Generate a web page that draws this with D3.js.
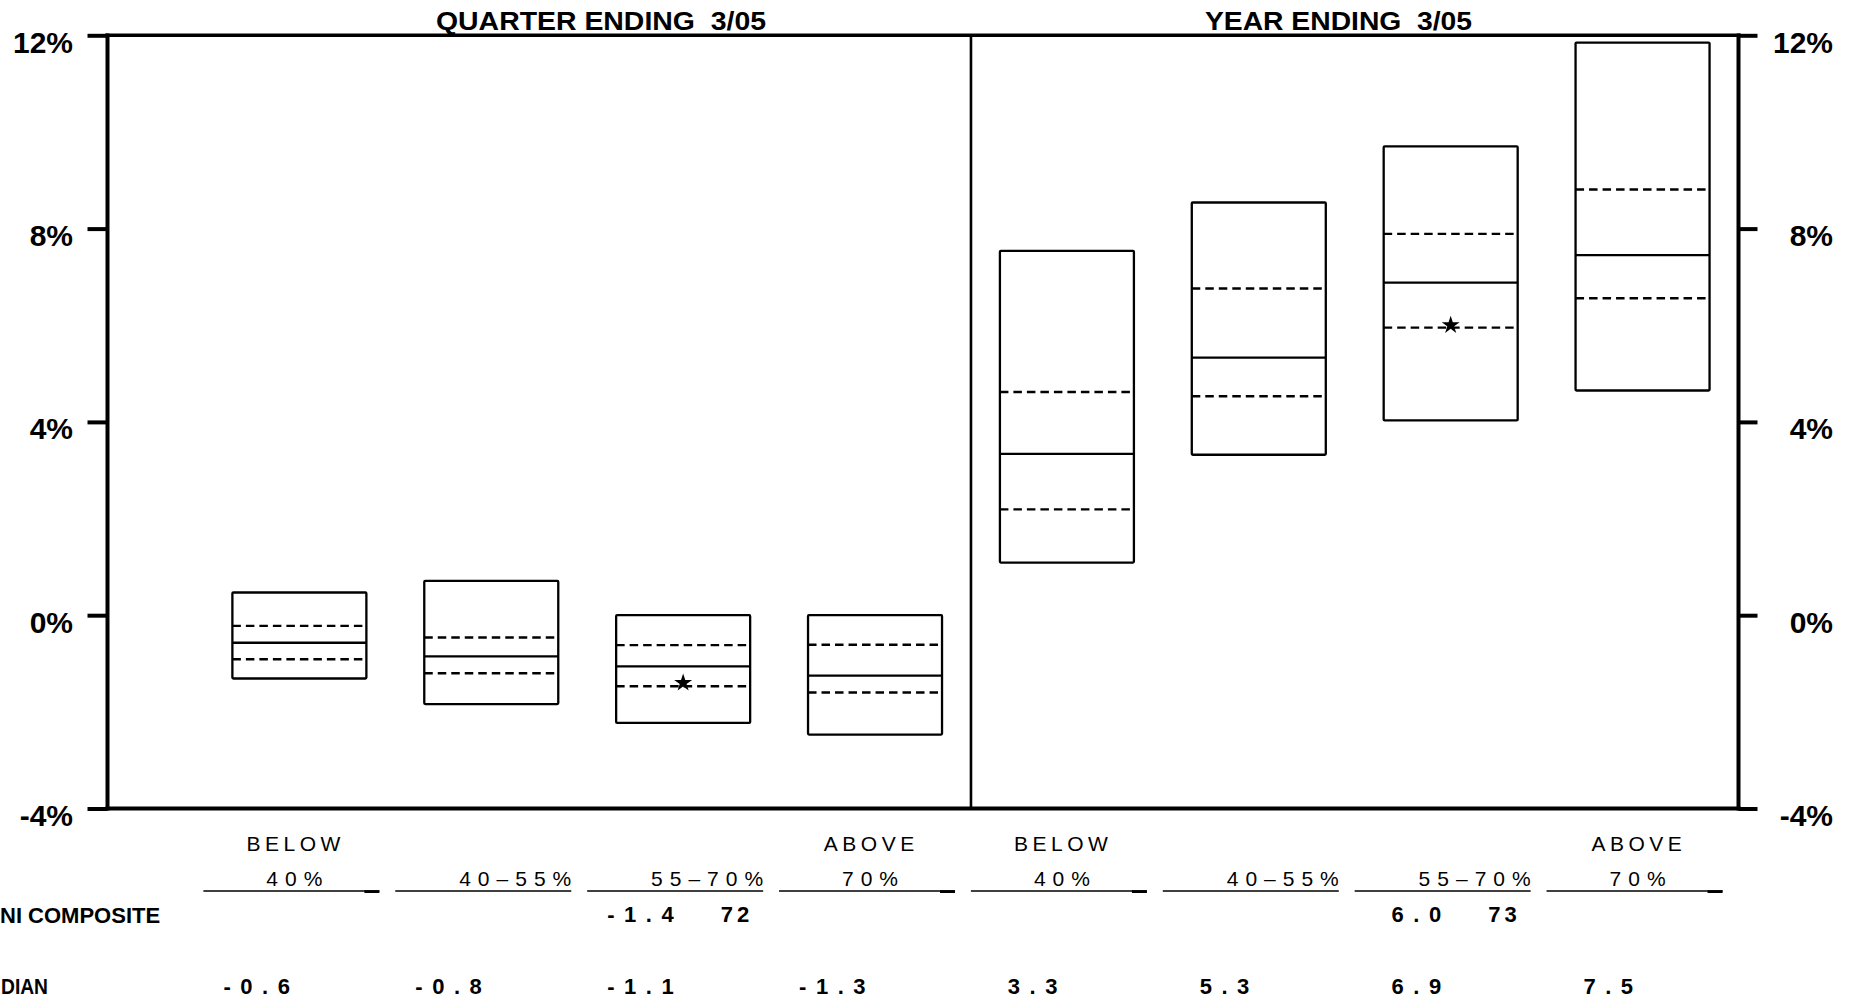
<!DOCTYPE html>
<html><head><meta charset="utf-8">
<script src="https://cdn.jsdelivr.net/npm/d3@7"></script>
<style>html,body{margin:0;padding:0;background:#fff;overflow:hidden}</style>
</head><body>
<svg id="chart" width="1863" height="1003"></svg>
<script>
// ---------- data ----------
const panelTitles = ["QUARTER ENDING  3/05", "YEAR ENDING  3/05"];
const groupTop = ["BELOW", "", "", "ABOVE", "BELOW", "", "", "ABOVE"];
const groupBottom = ["40%", "40\u201355%", "55\u201370%", "70%", "40%", "40\u201355%", "55\u201370%", "70%"];
const p5  = [-1.31, -1.84, -2.23, -2.47, 1.09, 3.32, 4.03, 4.65];
const p25 = [-0.91, -1.20, -1.47, -1.60, 2.19, 4.53, 5.95, 6.56];
const p50 = [-0.57, -0.85, -1.06, -1.25, 3.34, 5.33, 6.88, 7.45];
const p75 = [-0.22, -0.46, -0.62, -0.61, 4.62, 6.76, 7.89, 8.81];
const p95 = [0.47, 0.71, 0.00, 0.00, 7.54, 8.54, 9.70, 11.85];
const medianLabels = ["-0.6", "-0.8", "-1.1", "-1.3", "3.3", "5.3", "6.9", "7.5"];
const compositeValue = [null, null, -1.4, null, null, null, 6.0, null];
const compositeLabel = [null, null, "-1.4", null, null, null, "6.0", null];
const compositeRank = [null, null, "72", null, null, null, "73", null];
const yTicks = [-4, 0, 4, 8, 12];
const rowLabels = ["NI COMPOSITE", "DIAN"];

// ---------- layout ----------
const svg = d3.select("#chart");
const FONT = "'Liberation Sans', Arial, Helvetica, sans-serif";
const x = d3.scaleLinear().domain([0, 8.5]).range([107.5, 1738.5]);
const y = d3.scaleLinear().domain([-4, 12]).range([808.5, 35.3]);
const boxW = 134;

const canvas = document.createElement("canvas");
const ctx = canvas.getContext("2d");
function textW(str, font) { ctx.font = font; return ctx.measureText(str).width; }
function spaced(str, left, baseline, size, weight, spacing) {
  svg.append("text").attr("x", left).attr("y", baseline)
    .attr("font-family", FONT).attr("font-size", size).attr("font-weight", weight)
    .style("letter-spacing", spacing + "px").attr("fill", "#000").text(str);
}
function visW(str, size, weight, spacing) {
  return textW(str, `${weight} ${size}px ${FONT}`) + (str.length - 1) * spacing;
}

// ---------- titles ----------
const titleX = [436, 1205], titleLen = [330, 267];
panelTitles.forEach((t, k) => {
  svg.append("text").attr("x", titleX[k]).attr("y", 29.5)
    .attr("xml:space", "preserve").style("white-space", "pre")
    .attr("font-family", FONT).attr("font-weight", "bold").attr("font-size", 25)
    .attr("textLength", titleLen[k]).attr("lengthAdjust", "spacingAndGlyphs")
    .text(t);
});

// ---------- axes ----------
const yl = svg.append("g").attr("transform", `translate(${x(0)},0)`)
  .call(d3.axisLeft(y).tickValues(yTicks).tickSize(20).tickPadding(14.5).tickFormat(d => d + "%"));
const yr = svg.append("g").attr("transform", `translate(${x(8.5)},0)`)
  .call(d3.axisRight(y).tickValues(yTicks).tickSize(19).tickPadding(14.5).tickFormat(d => d + "%"));
[yl, yr].forEach(g => {
  g.select(".domain").remove();
  g.selectAll(".tick line").attr("stroke", "#000").attr("stroke-width", 4);
  g.selectAll(".tick text").attr("font-family", FONT).attr("font-size", 30)
    .attr("font-weight", "bold").attr("fill", "#000").attr("dy", 16.8);
});
yr.selectAll(".tick text").attr("text-anchor", "end").attr("x", 1833 - x(8.5));

// frame
const frame = svg.append("g").attr("stroke", "#000").attr("fill", "none");
frame.append("line").attr("x1", x(0) - 2).attr("x2", x(8.5) + 2).attr("y1", y(12)).attr("y2", y(12)).attr("stroke-width", 3.4);
frame.append("line").attr("x1", x(0) - 2).attr("x2", x(8.5) + 2).attr("y1", y(-4)).attr("y2", y(-4)).attr("stroke-width", 3.8);
frame.append("line").attr("x1", x(0)).attr("x2", x(0)).attr("y1", y(12) - 1.7).attr("y2", y(-4) + 1.9).attr("stroke-width", 4);
frame.append("line").attr("x1", x(8.5)).attr("x2", x(8.5)).attr("y1", y(12) - 1.7).attr("y2", y(-4) + 1.9).attr("stroke-width", 4);
frame.append("line").attr("x1", x(4.5)).attr("x2", x(4.5)).attr("y1", y(12)).attr("y2", y(-4)).attr("stroke-width", 2.6);

// ---------- boxes ----------
const idx = d3.range(p50.length);
const boxes = svg.append("g").attr("stroke", "#000").attr("fill", "none");
idx.forEach(i => {
  const cx = x(i + 1), left = cx - boxW / 2;
  boxes.append("rect").attr("x", left).attr("y", y(p95[i]))
    .attr("width", boxW).attr("height", y(p5[i]) - y(p95[i]))
    .attr("stroke-width", 2.3).attr("rx", 1);
  boxes.append("line").attr("x1", left).attr("x2", left + boxW)
    .attr("y1", y(p50[i])).attr("y2", y(p50[i])).attr("stroke-width", 2.3);
  [p25[i], p75[i]].forEach(v => {
    boxes.append("line").attr("x1", left).attr("x2", left + 130)
      .attr("y1", y(v)).attr("y2", y(v)).attr("stroke-width", 2.4)
      .attr("stroke-dasharray", "8.5,5");
  });
  if (compositeValue[i] !== null) {
    svg.append("path").attr("d", d3.symbol(d3.symbolStar, 100)())
      .attr("transform", `translate(${cx},${y(compositeValue[i])})`).attr("fill", "#000");
  }
});

// ---------- bottom table ----------
idx.forEach(i => {
  const cx = x(i + 1);
  if (groupTop[i]) {
    const w = visW(groupTop[i], 21, "normal", 4.5);
    spaced(groupTop[i], cx - 6 - w / 2, 850.7, 21, "normal", 4.5);
  }
  const gb = groupBottom[i];
  const wb = visW(gb, 21, "normal", 7);
  const isEnd = (i % 4 === 0 || i % 4 === 3);
  spaced(gb, isEnd ? cx - 5 - wb / 2 : cx + 80 - wb, 885.5, 21, "normal", 7);
  svg.append("line").attr("x1", cx - 96).attr("x2", cx + 80).attr("y1", 891).attr("y2", 891)
    .attr("stroke", "#000").attr("stroke-width", 1.6);
  if (isEnd) {
    svg.append("rect").attr("x", cx + 65).attr("y", 890.2).attr("width", 15).attr("height", 2.8).attr("fill", "#000");
  }
  if (compositeLabel[i]) {
    const w = visW(compositeLabel[i], 22, "bold", 9.5);
    spaced(compositeLabel[i], cx - 9.5 - w, 922.3, 22, "bold", 9.5);
    const wr = visW(compositeRank[i], 22, "bold", 4);
    spaced(compositeRank[i], cx + 66 - wr, 922.3, 22, "bold", 4);
  }
  const wm = visW(medianLabels[i], 22, "bold", 9.5);
  spaced(medianLabels[i], cx - 9.5 - wm, 994.3, 22, "bold", 9.5);
});

svg.append("text").attr("x", 0).attr("y", 923.3).attr("font-family", FONT)
  .attr("font-weight", "bold").attr("font-size", 22).text(rowLabels[0]);
svg.append("text").attr("x", 1).attr("y", 994.3).attr("font-family", FONT)
  .attr("font-weight", "bold").attr("font-size", 22)
  .attr("textLength", 47).attr("lengthAdjust", "spacingAndGlyphs").text(rowLabels[1]);
</script>
</body></html>
